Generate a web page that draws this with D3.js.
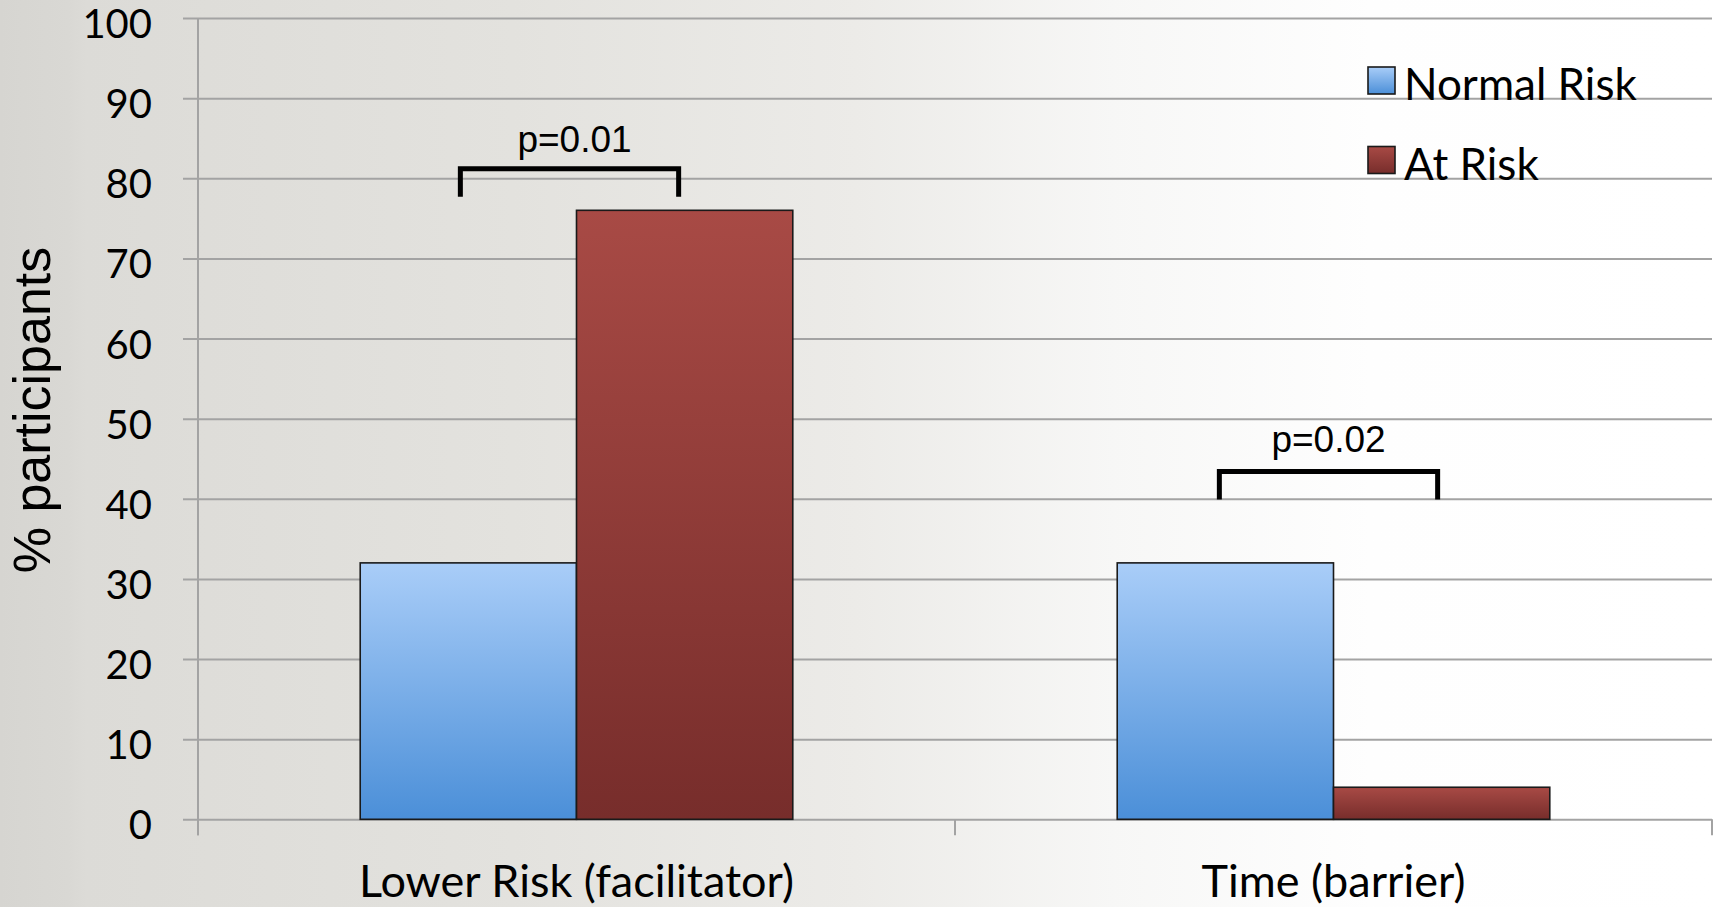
<!DOCTYPE html>
<html>
<head>
<meta charset="utf-8">
<script src="https://cdn.jsdelivr.net/npm/d3@7"></script>
<style>
  html, body { margin: 0; padding: 0; background: #fff; }
  svg { display: block; }
</style>
</head>
<body>
<div id="chart"></div>
<script>
// ---- data ----
const categories = ["Lower Risk (facilitator)", "Time (barrier)"];
const seriesNames = ["Normal Risk", "At Risk"];
const normalRisk = [32, 32];
const atRisk = [76, 4];
const yTicks = [0, 10, 20, 30, 40, 50, 60, 70, 80, 90, 100];
const pLabels = ["p=0.01", "p=0.02"];
const bracketTop = [81.2, 43.4];
const bracketBottom = [77.7, 39.9];
const pLabelLevel = [83.3, 45.9];
const yTitle = "% participants";

// ---- layout ----
const W = 1713, H = 907;
const plotLeft = 198, plotRight = 1712, plotTop = 18, plotBottom = 819.3;

const svg = d3.select("#chart").append("svg").attr("width", W).attr("height", H);
const defs = svg.append("defs");

const bg = defs.append("linearGradient").attr("id", "bg").attr("x1", 0).attr("x2", 1).attr("y1", 0).attr("y2", 0);
[[0, "#d6d5d1"], [0.04, "#d9d8d4"], [0.05, "#dcdbd7"], [0.3, "#e3e2de"], [0.5, "#ecebe8"], [0.65, "#f7f7f6"], [0.8, "#fefefe"], [1, "#ffffff"]]
  .forEach(([o, c]) => bg.append("stop").attr("offset", o).attr("stop-color", c));

const gBlue = defs.append("linearGradient").attr("id", "gBlue").attr("x1", 0).attr("x2", 0).attr("y1", 0).attr("y2", 1);
gBlue.append("stop").attr("offset", 0).attr("stop-color", "#a9cdf8");
gBlue.append("stop").attr("offset", 1).attr("stop-color", "#4b8fd8");
const gRed = defs.append("linearGradient").attr("id", "gRed").attr("x1", 0).attr("x2", 0).attr("y1", 0).attr("y2", 1);
gRed.append("stop").attr("offset", 0).attr("stop-color", "#a84a45");
gRed.append("stop").attr("offset", 1).attr("stop-color", "#772d2b");
const fills = { "Normal Risk": "url(#gBlue)", "At Risk": "url(#gRed)" };

svg.append("rect").attr("width", W).attr("height", H).attr("fill", "url(#bg)");

const y = d3.scaleLinear().domain([0, 100]).range([plotBottom, plotTop]);
const x0 = d3.scaleBand().domain(categories).range([plotLeft, plotRight]).padding(0);
const bw = x0.bandwidth();
const x1 = d3.scaleBand().domain(seriesNames).range([bw * 0.75 / 3.5, bw * 2.75 / 3.5]).padding(0);

const tickFont = "Lato, 'Open Sans', sans-serif";

// gridlines + y tick labels
const yAxis = svg.append("g")
  .attr("transform", `translate(${plotRight},0)`)
  .call(d3.axisLeft(y).tickValues(yTicks).tickSizeInner(plotRight - plotLeft + 15).tickSizeOuter(0).tickPadding(31));
yAxis.select(".domain").remove();
yAxis.selectAll(".tick line").attr("stroke", "#a3a3a3").attr("stroke-width", 2);
yAxis.selectAll(".tick text")
  .attr("font-family", tickFont).attr("font-size", 40).attr("fill", "#000")
  .attr("dy", "0.49em");

// y axis line
svg.append("line").attr("x1", plotLeft).attr("x2", plotLeft)
  .attr("y1", y(100)).attr("y2", plotBottom + 16)
  .attr("stroke", "#a3a3a3").attr("stroke-width", 2);

// x axis category boundary ticks
const bounds = categories.map(c => x0(c)).concat([x0(categories[categories.length - 1]) + bw]);
svg.selectAll("line.xb").data(bounds).enter().append("line")
  .attr("x1", d => d).attr("x2", d => d)
  .attr("y1", plotBottom).attr("y2", plotBottom + 16)
  .attr("stroke", "#a3a3a3").attr("stroke-width", 2);

// category labels
const xAxis = svg.append("g").attr("transform", `translate(0,${plotBottom})`)
  .call(d3.axisBottom(x0).tickSize(0));
xAxis.select(".domain").remove();
xAxis.selectAll(".tick text")
  .attr("font-family", tickFont).attr("font-size", 45).attr("fill", "#000")
  .attr("y", 78).attr("dy", 0);

// bars
const rows = categories.map((c, i) => ({ cat: c, vals: [normalRisk[i], atRisk[i]] }));
const groups = svg.selectAll("g.grp").data(rows).enter().append("g")
  .attr("transform", d => `translate(${x0(d.cat)},0)`);
groups.selectAll("rect").data(d => d.vals.map((v, j) => ({ s: seriesNames[j], v })))
  .enter().append("rect")
  .attr("x", d => x1(d.s)).attr("width", x1.bandwidth())
  .attr("y", d => y(d.v)).attr("height", d => y(0) - y(d.v))
  .attr("fill", d => fills[d.s]).attr("stroke", "#1a1a1a").attr("stroke-width", 1.6);

// significance brackets
categories.forEach((c, i) => {
  const shift = i === 0 ? 0 : 2;
  const xl = x0(c) + x1(seriesNames[0]) + x1.bandwidth() / 2 - 8 + shift;
  const xr = x0(c) + x1(seriesNames[1]) + x1.bandwidth() / 2 - 6 + shift;
  svg.append("path")
    .attr("d", `M${xl},${y(bracketBottom[i])}V${y(bracketTop[i])}H${xr}V${y(bracketBottom[i])}`)
    .attr("fill", "none").attr("stroke", "#000").attr("stroke-width", 5).attr("stroke-linejoin", "miter");
  svg.append("text").attr("x", (xl + xr) / 2 + (i === 0 ? 5 : 0)).attr("y", y(pLabelLevel[i]))
    .attr("text-anchor", "middle").attr("font-family", "'Liberation Sans', Arial, sans-serif")
    .attr("font-size", 37).attr("fill", "#000").text(pLabels[i]);
});

// legend
const legend = svg.append("g").attr("transform", "translate(1368,67)");
seriesNames.forEach((s, i) => {
  const g = legend.append("g").attr("transform", `translate(0,${i * 79.5})`);
  g.append("rect").attr("width", 27).attr("height", 27).attr("fill", fills[s])
    .attr("stroke", "#1a1a1a").attr("stroke-width", 1.6);
  g.append("text").attr("x", 36).attr("y", 33).attr("font-family", tickFont)
    .attr("font-size", 44).attr("fill", "#000").text(s);
});

// y title
svg.append("text").attr("transform", "translate(50,410) rotate(-90)")
  .attr("text-anchor", "middle").attr("font-family", "'Liberation Sans', Arial, sans-serif")
  .attr("font-size", 52).attr("fill", "#000").text(yTitle);
</script>
</body>
</html>
